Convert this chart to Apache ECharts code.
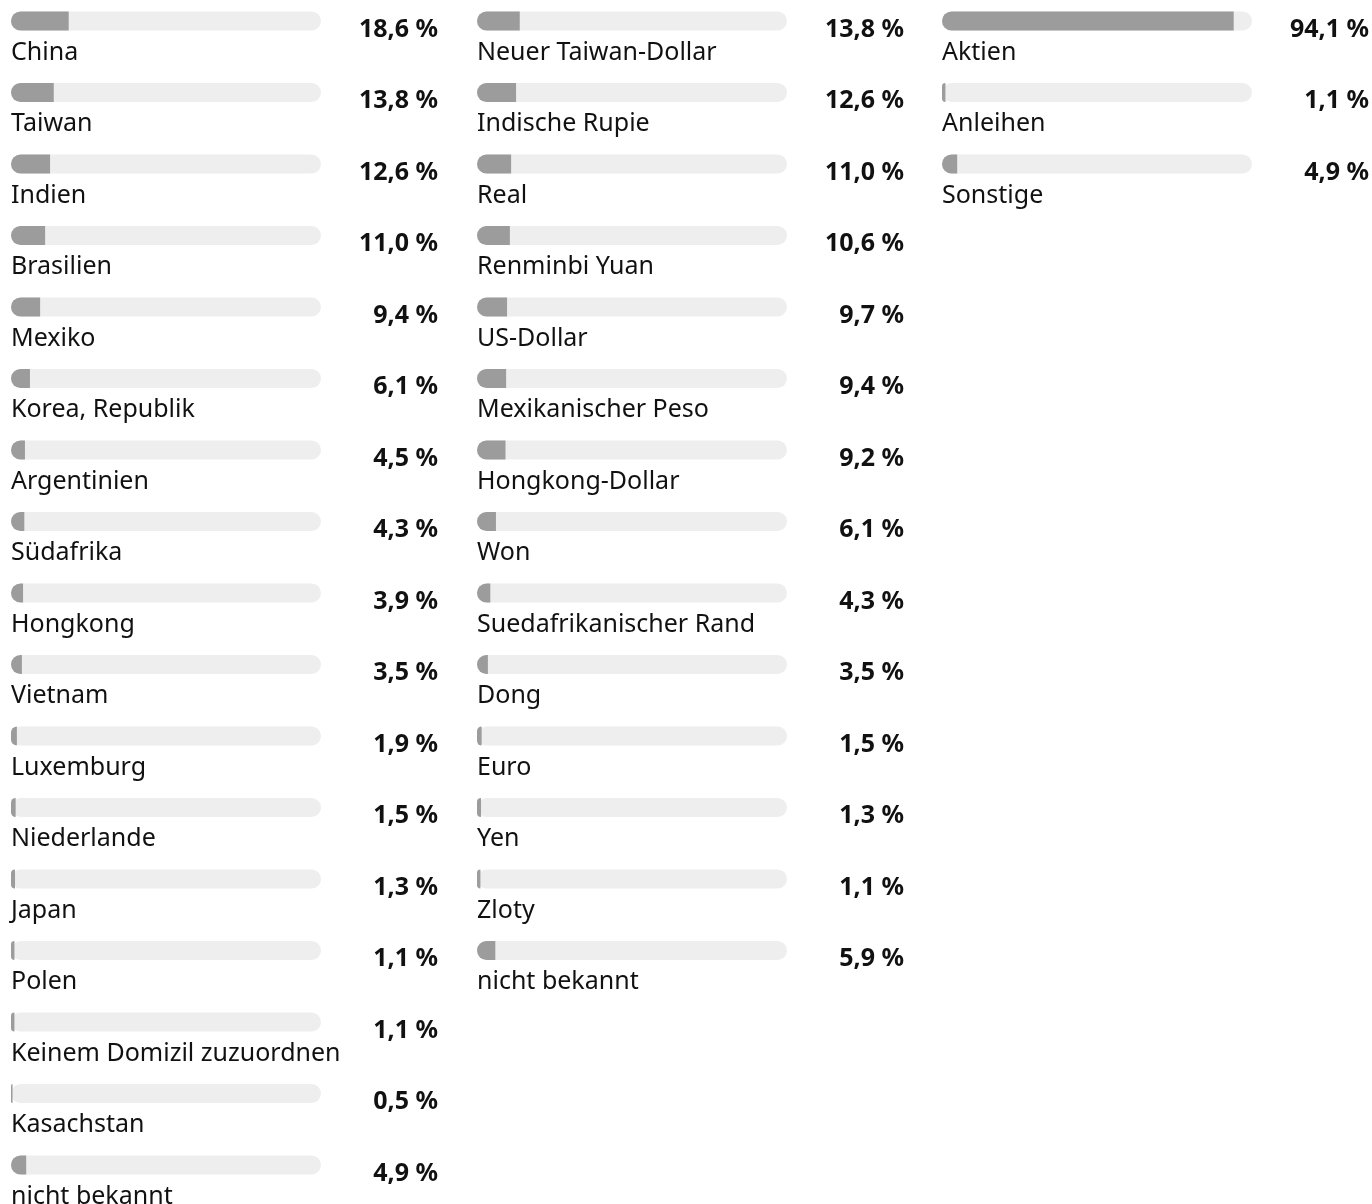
<!DOCTYPE html>
<html>
<head>
    <meta charset="utf-8">
    <title>Aufteilung</title>
    <script src="https://cdn.jsdelivr.net/npm/echarts@6/dist/echarts.min.js"></script>
    <style>
        html, body { margin: 0; padding: 0; background: #fff; }
    </style>
</head>
<body>
    <div id="main" style="width: 1372px; height: 1204px;"></div>
    <script type="text/javascript">
        // Länder
        var laender = ['China', 'Taiwan', 'Indien', 'Brasilien', 'Mexiko', 'Korea, Republik', 'Argentinien',
            'Südafrika', 'Hongkong', 'Vietnam', 'Luxemburg', 'Niederlande', 'Japan', 'Polen',
            'Keinem Domizil zuzuordnen', 'Kasachstan', 'nicht bekannt'];
        var laenderWerte = [18.6, 13.8, 12.6, 11.0, 9.4, 6.1, 4.5, 4.3, 3.9, 3.5, 1.9, 1.5, 1.3, 1.1, 1.1, 0.5, 4.9];

        // Währungen
        var waehrungen = ['Neuer Taiwan-Dollar', 'Indische Rupie', 'Real', 'Renminbi Yuan', 'US-Dollar',
            'Mexikanischer Peso', 'Hongkong-Dollar', 'Won', 'Suedafrikanischer Rand', 'Dong', 'Euro',
            'Yen', 'Zloty', 'nicht bekannt'];
        var waehrungenWerte = [13.8, 12.6, 11.0, 10.6, 9.7, 9.4, 9.2, 6.1, 4.3, 3.5, 1.5, 1.3, 1.1, 5.9];

        // Anlageklassen
        var klassen = ['Aktien', 'Anleihen', 'Sonstige'];
        var klassenWerte = [94.1, 1.1, 4.9];

        var spalten = [
            { names: laender, values: laenderWerte, left: 11 },
            { names: waehrungen, values: waehrungenWerte, left: 477 },
            { names: klassen, values: klassenWerte, left: 942 }
        ];

        var rowH = 71.5;
        var firstCenter = 21;
        var font = '"Noto Sans", "DejaVu Sans", sans-serif';

        function fmt(v) {
            return v.toFixed(1).replace('.', ',') + ' %';
        }

        var grids = [], xAxes = [], yAxes = [], series = [];
        spalten.forEach(function (s, i) {
            grids.push({
                left: s.left,
                width: 310,
                top: firstCenter - rowH / 2,
                height: rowH * s.names.length,
                containLabel: false,
                outerBoundsMode: 'none'
            });
            xAxes.push({ type: 'value', gridIndex: i, min: 0, max: 100, show: false });
            yAxes.push({ type: 'category', gridIndex: i, inverse: true, data: s.names, show: false });
            // Balken mit Name darunter
            series.push({
                type: 'bar',
                xAxisIndex: i,
                yAxisIndex: i,
                data: s.values,
                barWidth: 19,
                barGap: '-100%',
                showBackground: true,
                backgroundStyle: { color: '#eeeeee', borderRadius: 9.5 },
                itemStyle: { color: '#9c9c9c', borderRadius: [9.5, 0, 0, 9.5] },
                label: {
                    show: true,
                    position: [0, 41],
                    align: 'left',
                    verticalAlign: 'middle',
                    color: '#111',
                    fontFamily: font,
                    fontSize: 25,
                    formatter: function (p) { return p.name; }
                },
                silent: true,
                animation: false
            });
            // Prozentwert rechts
            series.push({
                type: 'bar',
                xAxisIndex: i,
                yAxisIndex: i,
                data: s.values,
                barWidth: 19,
                barGap: '-100%',
                itemStyle: { color: 'rgba(0,0,0,0)' },
                label: {
                    show: true,
                    position: [427, 18],
                    align: 'right',
                    verticalAlign: 'middle',
                    color: '#111',
                    fontFamily: font,
                    fontWeight: 'bold',
                    fontSize: 25,
                    formatter: function (p) { return fmt(p.value); }
                },
                silent: true,
                animation: false
            });
        });

        var myChart = echarts.init(document.getElementById('main'));
        myChart.setOption({
            animation: false,
            grid: grids,
            xAxis: xAxes,
            yAxis: yAxes,
            series: series
        });
    </script>
</body>
</html>
